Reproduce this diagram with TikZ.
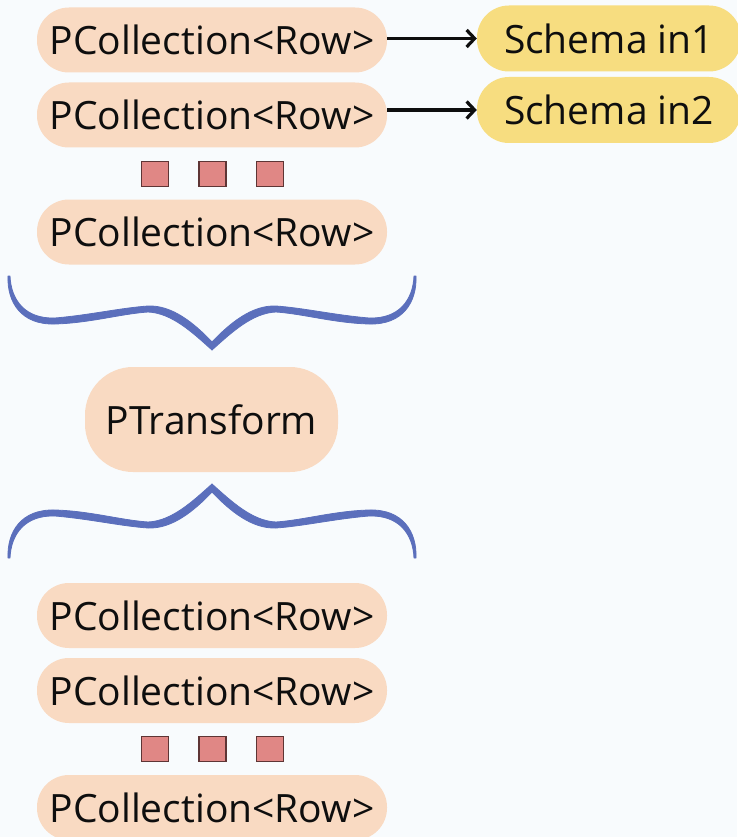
\documentclass[tikz,border=0pt]{standalone}
\usepackage{fontspec}
\setmainfont{Open Sans}
\usetikzlibrary{arrows.meta}

\definecolor{bgc}{HTML}{F8FBFD}
\definecolor{peach}{HTML}{F9DAC2}
\definecolor{sunny}{HTML}{F7DD80}
\definecolor{bracec}{HTML}{5B6FBC}
\definecolor{sqfill}{HTML}{E08785}
\definecolor{sqedge}{HTML}{5E3535}
\definecolor{ink}{HTML}{0E0E0E}

% left half of a curly brace, tip at the origin, y pointing down
\newcommand{\halfbrace}{%
  (-202,-74) .. controls (-201,-50) and (-187,-31) .. (-157,-32)
  .. controls (-122,-35) and (-92,-42) .. (-64,-44)
  .. controls (-40,-45) and (-18,-27) .. (0,-8)
  -- (0,0)
  .. controls (-19,-17) and (-40,-37) .. (-64,-38)
  .. controls (-92,-36) and (-122,-27) .. (-157,-26)
  .. controls (-191,-25) and (-205,-48) .. (-204,-74) -- cycle}

\begin{document}
\begin{tikzpicture}[x=1pt,y=-1pt,
  pill/.style={rectangle, rounded corners=32pt, fill=peach, text=ink,
    minimum width=350pt, minimum height=65pt, inner sep=0pt,
    font=\fontsize{39}{46}\selectfont},
  bigpill/.style={pill, minimum width=253pt, minimum height=105pt, rounded corners=48pt},
  schemapill/.style={pill, fill=sunny, minimum width=264pt, minimum height=66pt},
  dotbox/.style={rectangle, fill=sqfill, draw=sqedge, line width=1.6pt,
    minimum width=27pt, minimum height=25pt, inner sep=0pt},
  link/.style={draw=ink, line width=3.2pt,
    -{Straight Barb[length=8pt,width=17pt,line width=3.2pt]}},
  brace/.style={fill=bracec, draw=bracec, line width=0.8pt, line join=round}]

\useasboundingbox[fill=bgc] (0,0) rectangle (737,837);

% input collections
\node[pill] (in1) at (212,40) {PCollection<Row>};
\node[pill] (in2) at (212,115) {PCollection<Row>};
\node[dotbox] (da1) at (155,174) {};
\node[dotbox] (da2) at (212.5,174) {};
\node[dotbox] (da3) at (270,174) {};
\node[pill] (in3) at (212,232) {PCollection<Row>};

% schemas
\node[schemapill] (s1) at (609,38.5) {Schema in1};
\node[schemapill] (s2) at (609,110) {Schema in2};
\draw[link] (in1.east |- s1.west) -- (s1.west);
\draw[link] (in2.east |- s2.west) -- (s2.west);

% brace gathering the inputs
\begin{scope}[shift={(212,350)}]
  \fill[brace] \halfbrace;
  \begin{scope}[xscale=-1]\fill[brace] \halfbrace;\end{scope}
\end{scope}

% transform
\node[bigpill] (pt) at (211.5,419.5) {PTransform};

% brace spreading to the outputs
\begin{scope}[shift={(212,484)},yscale=-1]
  \fill[brace] \halfbrace;
  \begin{scope}[xscale=-1]\fill[brace] \halfbrace;\end{scope}
\end{scope}

% output collections
\node[pill] (out1) at (212,615.5) {PCollection<Row>};
\node[pill] (out2) at (212,690.5) {PCollection<Row>};
\node[dotbox] (db1) at (155,749) {};
\node[dotbox] (db2) at (212.5,749) {};
\node[dotbox] (db3) at (270,749) {};
\node[pill] (out3) at (212,807.5) {PCollection<Row>};
\end{tikzpicture}
\end{document}
